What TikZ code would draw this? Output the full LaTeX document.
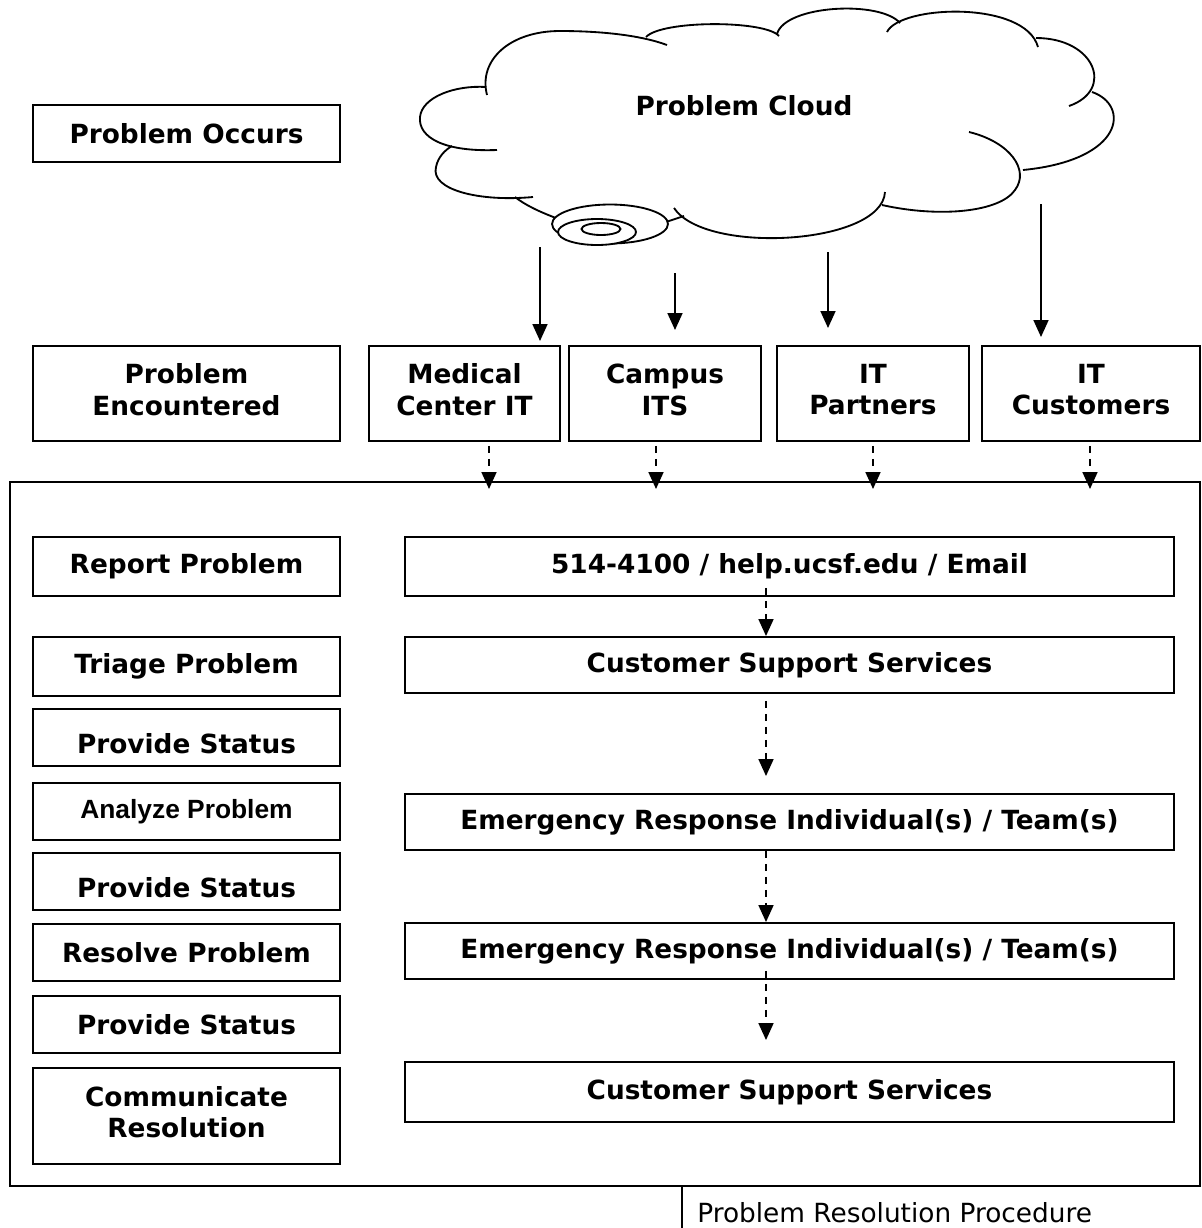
\documentclass[tikz,border=0pt]{standalone}
\usepackage{fontspec}
\setmainfont{DejaVu Sans}
\newfontfamily\arialfont{Liberation Sans}
\usetikzlibrary{arrows.meta}

\begin{document}
\begin{tikzpicture}[x=0.02cm, y=-0.02cm,
    stepbox/.style={draw, line width=1.1pt, inner sep=0pt, align=center,
        font=\bfseries\fontsize{15}{18}\selectfont},
    leftbox/.style={stepbox, minimum width=6.14cm},
    rightbox/.style={stepbox, minimum width=15.38cm},
    lowtext/.style={text height=0.66cm},
    twoline/.style={text depth=0.16cm},
    flowarrow/.style={line width=1pt, -{Triangle[length=0.34cm, width=0.3cm]}},
    dasharrow/.style={flowarrow, dash pattern=on 0.14cm off 0.12cm},
    cloudline/.style={line width=1.05pt}]

    \useasboundingbox (0,0) rectangle (1201,1228);

    \draw[cloudline] (497,150) .. controls (445,152) and (418,138) .. (420,117)
                               .. controls (422,97) and (455,85) .. (486,87);
    \draw[cloudline] (487,95) .. controls (478,60) and (510,31) .. (560,31)
                              .. controls (600,31) and (640,35) .. (667,45);
    \draw[cloudline] (646,37) .. controls (662,20) and (765,20) .. (779,36);
    \draw[cloudline] (777,34) .. controls (785,5) and (880,0) .. (900,23);
    \draw[cloudline] (887,32) .. controls (900,5) and (1025,0) .. (1038,47);
    \draw[cloudline] (1036,38) .. controls (1095,38) and (1115,90) .. (1069,106);
    \draw[cloudline] (1092,92) .. controls (1130,105) and (1125,160) .. (1023,170);
    \draw[cloudline] (969,132) .. controls (1010,142) and (1030,170) .. (1015,190)
                               .. controls (1000,212) and (940,218) .. (882,205);
    \draw[cloudline] (885,192) .. controls (882,245) and (705,255) .. (674,208);
    \draw[cloudline] (666,222) -- (684,216);
    \draw[cloudline] (556,218) .. controls (540,212) and (525,205) .. (515,197);
    \draw[cloudline] (533,197) .. controls (480,202) and (430,190) .. (436,167)
                               .. controls (438,157) and (445,150) .. (452,146);

    \draw[cloudline, fill=white] (610,224) ellipse [x radius=1.16cm, y radius=0.39cm];
    \draw[cloudline, fill=white] (597,232) ellipse [x radius=0.78cm, y radius=0.26cm];
    \draw[cloudline, fill=white] (601,229) ellipse [x radius=0.39cm, y radius=0.12cm];

    \node[font=\bfseries\fontsize{15}{18}\selectfont] (cloud) at (744,106) {Problem Cloud};

    \node[leftbox, minimum height=1.14cm] (occurs) at (186.5,133.5) {Problem Occurs};
    \node[leftbox, twoline, minimum height=1.9cm] (encountered) at (186.5,393.5) {Problem\\Encountered};

    \node[stepbox, twoline, minimum width=3.82cm, minimum height=1.9cm] (medical) at (464.5,393.5) {Medical\\Center IT};
    \node[stepbox, twoline, minimum width=3.84cm, minimum height=1.9cm] (campus) at (665,393.5) {Campus\\ITS};
    \node[stepbox, twoline, minimum width=3.84cm, minimum height=1.9cm] (partners) at (873,393.5) {IT\\Partners};
    \node[stepbox, twoline, minimum width=4.36cm, minimum height=1.9cm] (customers) at (1091,393.5) {IT\\Customers};

    \foreach \dst/\x/\ytop/\ytip in {medical/540/247/341, campus/675/273/330,
                                     partners/828/252/328, customers/1041/204/337} {
        \coordinate (drop-\dst) at (\x,\ytop);
        \coordinate (hit-\dst) at (\x,\ytip);
        \draw[flowarrow] (drop-\dst) -- (hit-\dst);
    }

    \foreach \src/\x in {medical/489, campus/656, partners/873, customers/1090} {
        \coordinate (tip-\src) at (\x,489);
        \draw[dasharrow, shorten <=0.08cm] (\src.south -| tip-\src) -- (tip-\src);
    }

    \draw[line width=1.1pt] (10,482) rectangle (1200,1186);

    \node[leftbox, minimum height=1.18cm] (report) at (186.5,566.5) {Report Problem};
    \node[leftbox, minimum height=1.18cm] (triage) at (186.5,666.5) {Triage Problem};
    \node[leftbox, lowtext, minimum height=1.14cm] (status1) at (186.5,737.5) {Provide Status};
    \node[leftbox, minimum height=1.14cm, font=\arialfont\bfseries\fontsize{15}{18}\selectfont] (analyze) at (186.5,811.5) {Analyze Problem};
    \node[leftbox, lowtext, minimum height=1.14cm] (status2) at (186.5,881.5) {Provide Status};
    \node[leftbox, minimum height=1.14cm] (resolve) at (186.5,952.5) {Resolve Problem};
    \node[leftbox, minimum height=1.14cm] (status3) at (186.5,1024.5) {Provide Status};
    \node[leftbox, twoline, minimum height=1.92cm] (communicate) at (186.5,1116) {Communicate\\Resolution};

    \node[rightbox, minimum height=1.18cm] (contact) at (789.5,566.5) {514-4100 / help.ucsf.edu / Email};
    \node[rightbox, minimum height=1.12cm] (support1) at (789.5,665) {Customer Support Services};
    \node[rightbox, minimum height=1.12cm] (response1) at (789.5,822) {Emergency Response Individual(s) / Team(s)};
    \node[rightbox, minimum height=1.12cm] (response2) at (789.5,951) {Emergency Response Individual(s) / Team(s)};
    \node[rightbox, minimum height=1.2cm] (support2) at (789.5,1092) {Customer Support Services};

    \draw[dasharrow] ([shift={(-0.47cm,0.18cm)}]contact.south) -- ([xshift=-0.47cm]support1.north);
    \draw[dasharrow] ([shift={(-0.47cm,-0.14cm)}]support1.south) -- ([shift={(-0.47cm,0.34cm)}]response1.north);
    \draw[dasharrow] ([xshift=-0.47cm]response1.south) -- ([xshift=-0.47cm]response2.north);
    \draw[dasharrow] ([shift={(-0.47cm,0.18cm)}]response2.south) -- ([shift={(-0.47cm,0.42cm)}]support2.north);

    \coordinate (capline) at (682,1186);
    \draw[line width=1.1pt] (capline) -- (682,1228);
    \node[anchor=base west, inner sep=0pt, font=\fontsize{15}{18}\selectfont] (caption) at (697,1222) {Problem Resolution Procedure};

\end{tikzpicture}
\end{document}
